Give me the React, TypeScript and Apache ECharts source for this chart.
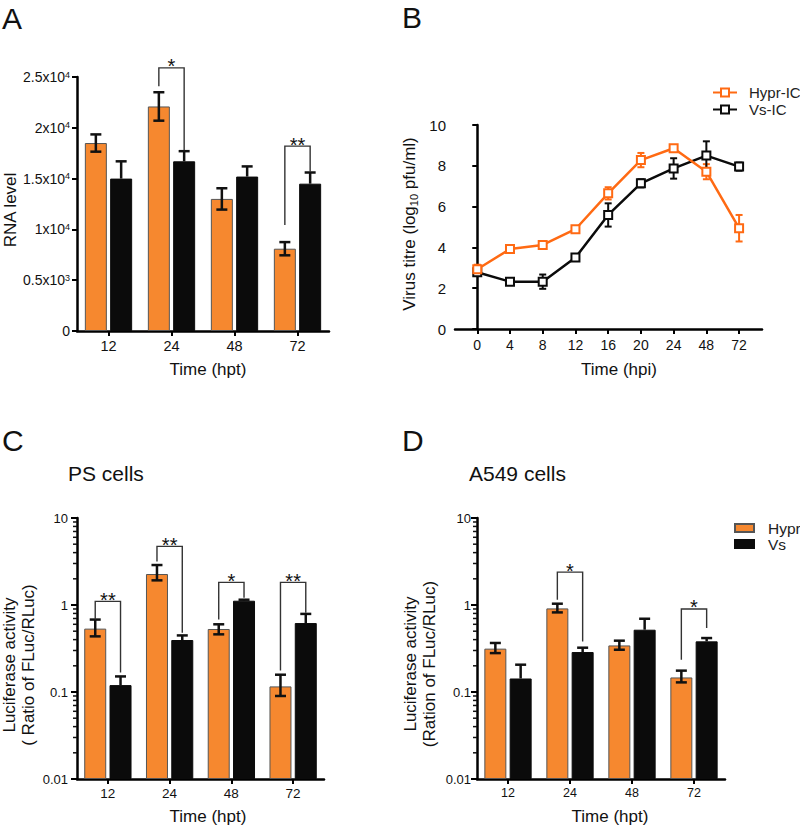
import React, { useEffect, useRef } from 'react';
import * as echarts from 'echarts';

const FONT = '"Liberation Sans", Arial, Helvetica, sans-serif';
const ORANGE = '#F6882F';
const LINE_ORANGE = '#FF6A13';
const BLACK = '#0B0B0B';

// ---------- Panel A: RNA level ----------
const barCats = ['12', '24', '48', '72'];
const rnaHypr = [18500, 22100, 13000, 8100];
const rnaHyprErr = [850, 1400, 1050, 650];
const rnaVs = [15000, 16700, 15200, 14500];
const rnaVsErr = [1700, 1000, 1000, 1100];
const rnaTickBase = ['0', '0.5x10', '1x10', '1.5x10', '2x10', '2.5x10'];
const rnaTickExp = ['', '3', '4', '4', '4', '4'];
const rnaBrCat = [1, 3];
const rnaBrLeft = [24100, 10430];
const rnaBrRight = [17800, 15650];
const rnaBrTop = [25900, 18200];
const rnaBrLabel = ['*', '**'];

// ---------- Panel B: virus titre ----------
const titreCats = ['0', '4', '8', '12', '16', '20', '24', '48', '72'];
const titreHypr = [2.93, 3.92, 4.12, 4.89, 6.65, 8.28, 8.86, 7.71, 4.94];
const titreHyprErr = [0.22, 0.08, 0.08, 0.08, 0.3, 0.35, 0.1, 0.37, 0.65];
const titreVs = [2.78, 2.32, 2.32, 3.5, 5.59, 7.14, 7.87, 8.5, 7.96];
const titreVsErr = [0.08, 0.08, 0.35, 0.08, 0.57, 0.2, 0.5, 0.7, 0.2];

// ---------- Panel C: PS cells ----------
const psHypr = [0.535, 2.27, 0.53, 0.116];
const psHyprLo = [0.436, 1.92, 0.46, 0.09];
const psHyprHi = [0.68, 2.88, 0.6, 0.158];
const psVs = [0.12, 0.396, 1.12, 0.62];
const psVsHi = [0.151, 0.447, 1.15, 0.79];
const psBrCat = [0, 1, 2, 3];
const psBrLeft = [0.68, 3.17, 0.68, 0.177];
const psBrRight = [0.167, 0.48, 1.21, 0.817];
const psBrTop = [1.1, 4.72, 1.82, 1.82];
const psBrLabel = ['**', '**', '*', '**'];

// ---------- Panel D: A549 cells ----------
const a549Hypr = [0.315, 0.914, 0.343, 0.147];
const a549HyprLo = [0.28, 0.822, 0.306, 0.129];
const a549HyprHi = [0.366, 1.035, 0.389, 0.176];
const a549Vs = [0.143, 0.288, 0.52, 0.382];
const a549VsHi = [0.206, 0.323, 0.695, 0.417];
const a549BrCat = [1, 3];
const a549BrLeft = [1.15, 0.235];
const a549BrRight = [0.38, 0.545];
const a549BrTop = [2.39, 0.9];
const a549BrLabel = ['*', '*'];

const logMinorTicks = [0.02, 0.03, 0.04, 0.05, 0.06, 0.07, 0.08, 0.09, 0.2, 0.3, 0.4, 0.5, 0.6, 0.7, 0.8, 0.9, 2, 3, 4, 5, 6, 7, 8, 9];

// ---------- style constants ----------
const BAR_W = 22;
const BAR_GAP = 0.15;
const BAR_OFF = (BAR_W * (1 + BAR_GAP)) / 2;
const CAP = 5.5;

function errRender(params: any, api: any) {
  const cat = api.value(0);
  const lo = api.value(1);
  const hi = api.value(2);
  const side = api.value(3);
  const pLo = api.coord([cat, lo]);
  const pHi = api.coord([cat, hi]);
  const x = pLo[0] + side * BAR_OFF;
  const style = { stroke: '#111', lineWidth: 2.5 };
  const children: any[] = [
    { type: 'line', shape: { x1: x, y1: pLo[1], x2: x, y2: pHi[1] }, style },
    { type: 'line', shape: { x1: x - CAP, y1: pHi[1], x2: x + CAP, y2: pHi[1] }, style },
  ];
  if (side < 0) children.push({ type: 'line', shape: { x1: x - CAP, y1: pLo[1], x2: x + CAP, y2: pLo[1] }, style });
  return { type: 'group', children };
}

function makeBracketRender(labels: string[]) {
  return (params: any, api: any) => {
    const cat = api.value(0);
    const pL = api.coord([cat, api.value(1)]);
    const pR = api.coord([cat, api.value(2)]);
    const pT = api.coord([cat, api.value(3)]);
    const xl = pT[0] - BAR_OFF;
    const xr = pT[0] + BAR_OFF;
    return {
      type: 'group',
      children: [
        {
          type: 'polyline',
          shape: { points: [[xl, pL[1]], [xl, pT[1]], [xr, pT[1]], [xr, pR[1]]] },
          style: { stroke: '#333', lineWidth: 1.4, fill: 'none' },
        },
        {
          type: 'text',
          x: (xl + xr) / 2,
          y: pT[1] - 1.5,
          style: {
            text: labels[params.dataIndex],
            font: `normal 20px ${FONT}`,
            fill: '#111',
            align: 'center',
            verticalAlign: 'middle',
            textAlign: 'center',
            textVerticalAlign: 'middle',
          },
        },
      ],
    };
  };
}

function minorTickRender(params: any, api: any) {
  const p = api.coord([0, api.value(1)]);
  const x0 = params.coordSys.x;
  return { type: 'line', shape: { x1: x0 - 4, y1: p[1], x2: x0, y2: p[1] }, style: { stroke: '#111', lineWidth: 1.5 } };
}

function titreErrRender(params: any, api: any) {
  const i = api.value(0);
  const lo = api.coord([i, api.value(1)]);
  const hi = api.coord([i, api.value(2)]);
  const color = api.value(3) === 0 ? LINE_ORANGE : BLACK;
  const style = { stroke: color, lineWidth: 2 };
  const c = 3.5;
  return {
    type: 'group',
    children: [
      { type: 'line', shape: { x1: lo[0], y1: lo[1], x2: hi[0], y2: hi[1] }, style },
      { type: 'line', shape: { x1: hi[0] - c, y1: hi[1], x2: hi[0] + c, y2: hi[1] }, style },
      { type: 'line', shape: { x1: lo[0] - c, y1: lo[1], x2: lo[0] + c, y2: lo[1] }, style },
    ],
  };
}

const axisLine = { show: true, lineStyle: { color: '#000', width: 2.5 } };
const axisTick = { show: true, length: 5, lineStyle: { color: '#000', width: 2 } };

function logLabel(v: number) {
  return String(parseFloat(v.toPrecision(3)));
}

function txt(text: string, x: number, y: number, size: number, opts: any = {}) {
  return {
    type: 'text',
    x,
    y,
    rotation: opts.rot || 0,
    style: {
      text,
      font: `normal ${size}px ${FONT}`,
      fill: '#111',
      align: opts.align || 'left',
      verticalAlign: 'middle',
      textAlign: opts.align || 'left',
      textVerticalAlign: 'middle',
      lineHeight: opts.lh,
    },
  };
}

export default function App() {
  const ref = useRef<HTMLDivElement>(null);
  useEffect(() => {
    const chart = echarts.init(ref.current!, null, { renderer: 'svg' });
    const catX = (gridIndex: number, fontSize: number) => ({
      type: 'category',
      gridIndex,
      data: barCats,
      axisLine,
      axisTick: { ...axisTick, alignWithLabel: true },
      axisLabel: { fontSize, fontFamily: FONT, color: '#111', margin: 7 },
      splitLine: { show: false },
    });
    const logY = (gridIndex: number, margin: number) => ({
      type: 'log',
      gridIndex,
      logBase: 10,
      min: 0.01,
      max: 10,
      startValue: 0.01,
      axisLine,
      axisTick: { ...axisTick, length: 6 },
      axisLabel: { fontSize: 13, fontFamily: FONT, color: '#111', margin, formatter: logLabel },
      splitLine: { show: false },
    });
    const barSeries = (name: string, data: number[], color: string, border: string, x: number, y: number) => ({
      type: 'bar',
      name,
      xAxisIndex: x,
      yAxisIndex: y,
      data,
      barWidth: BAR_W,
      barGap: `${BAR_GAP * 100}%`,
      itemStyle: { color, borderColor: border, borderWidth: 1 },
      z: 2,
    });
    const option: any = {
      animation: false,
      backgroundColor: '#fff',
      textStyle: { fontFamily: FONT },
      grid: [
        { left: 77, top: 77, width: 252, height: 254, containLabel: false, outerBoundsMode: 'none' },
        { left: 455, top: 125, width: 307, height: 204, containLabel: false, outerBoundsMode: 'none' },
        { left: 77, top: 518, width: 247, height: 261, containLabel: false, outerBoundsMode: 'none' },
        { left: 477, top: 518, width: 248, height: 261, containLabel: false, outerBoundsMode: 'none' },
      ],
      xAxis: [
        catX(0, 14.5),
        {
          type: 'value',
          gridIndex: 1,
          min: -0.68,
          max: 8.7,
          axisLine,
          axisTick: { ...axisTick, customValues: titreCats.map((_, i) => i) },
          axisLabel: {
            fontSize: 14,
            fontFamily: FONT,
            color: '#111',
            margin: 9,
            customValues: titreCats.map((_, i) => i),
            formatter: (v: number) => titreCats[Math.round(v)] ?? '',
          },
          splitLine: { show: false },
        },
        catX(2, 13.5),
        catX(3, 12.5),
      ],
      yAxis: [
        {
          type: 'value',
          gridIndex: 0,
          min: 0,
          max: 25000,
          interval: 5000,
          axisLine,
          axisTick,
          splitLine: { show: false },
          axisLabel: {
            margin: 7,
            formatter: (v: number) => {
              const k = Math.round(v / 5000);
              const e = rnaTickExp[k];
              return e ? `{b|${rnaTickBase[k]}}{s|${e}}` : `{b|${rnaTickBase[k]}}`;
            },
            rich: {
              b: { fontSize: 14, fontFamily: FONT, color: '#111', lineHeight: 14, verticalAlign: 'bottom' },
              s: { fontSize: 9, fontFamily: FONT, color: '#111', lineHeight: 9, padding: [0, 0, 7, 0], verticalAlign: 'top' },
            },
          },
        },
        {
          type: 'value',
          gridIndex: 1,
          min: 0,
          max: 10,
          interval: 2,
          axisLine,
          axisTick,
          splitLine: { show: false },
          axisLabel: { fontSize: 15, fontFamily: FONT, color: '#111', margin: 9 },
        },
        logY(2, 9),
        logY(3, 6),
      ],
      legend: [
        {
          data: ['Hypr-IC', 'Vs-IC'],
          orient: 'vertical',
          left: 707,
          top: 80,
          itemWidth: 24,
          itemHeight: 10,
          itemGap: 2,
          textStyle: { fontSize: 15, fontFamily: FONT, color: '#222', padding: [0, 0, 0, 7] },
        },
        {
          data: ['Hypr', 'Vs'],
          orient: 'vertical',
          left: 729,
          top: 515,
          icon: 'rect',
          itemWidth: 19,
          itemHeight: 8,
          itemGap: 0,
          textStyle: { fontSize: 15.5, fontFamily: FONT, color: '#222', padding: [0, 0, 0, 9] },
        },
      ],
      series: [
        // Panel A
        barSeries('Hypr', rnaHypr, ORANGE, '#555', 0, 0),
        barSeries('Vs', rnaVs, BLACK, BLACK, 0, 0),
        {
          type: 'custom',
          name: 'errA',
          xAxisIndex: 0,
          yAxisIndex: 0,
          clip: false,
          z: 5,
          renderItem: errRender,
          data: rnaHypr
            .map((v, i) => [i, v - rnaHyprErr[i], v + rnaHyprErr[i], -1])
            .concat(rnaVs.map((v, i) => [i, v, v + rnaVsErr[i], 1])),
        },
        {
          type: 'custom',
          name: 'brA',
          xAxisIndex: 0,
          yAxisIndex: 0,
          clip: false,
          z: 6,
          renderItem: makeBracketRender(rnaBrLabel),
          data: rnaBrCat.map((c, i) => [c, rnaBrLeft[i], rnaBrRight[i], rnaBrTop[i]]),
        },
        // Panel B
        {
          type: 'custom',
          name: 'errB',
          xAxisIndex: 1,
          yAxisIndex: 1,
          clip: false,
          z: 1,
          renderItem: titreErrRender,
          data: titreHypr
            .map((v, i) => [i, v - titreHyprErr[i], v + titreHyprErr[i], 0])
            .concat(titreVs.map((v, i) => [i, v - titreVsErr[i], v + titreVsErr[i], 1])),
        },
        {
          type: 'line',
          name: 'Vs-IC',
          xAxisIndex: 1,
          yAxisIndex: 1,
          data: titreVs.map((v, i) => [i, v]),
          symbol: 'emptyRect',
          symbolSize: 8,
          lineStyle: { color: BLACK, width: 2.5 },
          itemStyle: { color: BLACK, borderColor: BLACK, borderWidth: 2 },
          z: 3,
        },
        {
          type: 'line',
          name: 'Hypr-IC',
          xAxisIndex: 1,
          yAxisIndex: 1,
          data: titreHypr.map((v, i) => [i, v]),
          symbol: 'emptyRect',
          symbolSize: 8,
          lineStyle: { color: LINE_ORANGE, width: 2.5 },
          itemStyle: { color: LINE_ORANGE, borderColor: LINE_ORANGE, borderWidth: 2 },
          z: 4,
        },
        // Panel C
        barSeries('Hypr', psHypr, ORANGE, '#555', 2, 2),
        barSeries('Vs', psVs, BLACK, BLACK, 2, 2),
        {
          type: 'custom',
          name: 'errC',
          xAxisIndex: 2,
          yAxisIndex: 2,
          clip: false,
          z: 5,
          renderItem: errRender,
          data: psHypr
            .map((v, i) => [i, psHyprLo[i], psHyprHi[i], -1])
            .concat(psVs.map((v, i) => [i, v, psVsHi[i], 1])),
        },
        {
          type: 'custom',
          name: 'brC',
          xAxisIndex: 2,
          yAxisIndex: 2,
          clip: false,
          z: 6,
          renderItem: makeBracketRender(psBrLabel),
          data: psBrCat.map((c, i) => [c, psBrLeft[i], psBrRight[i], psBrTop[i]]),
        },
        {
          type: 'custom',
          name: 'minorC',
          xAxisIndex: 2,
          yAxisIndex: 2,
          clip: false,
          z: 6,
          renderItem: minorTickRender,
          data: logMinorTicks.map((v) => [0, v]),
        },
        // Panel D
        barSeries('Hypr', a549Hypr, ORANGE, '#555', 3, 3),
        barSeries('Vs', a549Vs, BLACK, BLACK, 3, 3),
        {
          type: 'custom',
          name: 'errD',
          xAxisIndex: 3,
          yAxisIndex: 3,
          clip: false,
          z: 5,
          renderItem: errRender,
          data: a549Hypr
            .map((v, i) => [i, a549HyprLo[i], a549HyprHi[i], -1])
            .concat(a549Vs.map((v, i) => [i, v, a549VsHi[i], 1])),
        },
        {
          type: 'custom',
          name: 'brD',
          xAxisIndex: 3,
          yAxisIndex: 3,
          clip: false,
          z: 6,
          renderItem: makeBracketRender(a549BrLabel),
          data: a549BrCat.map((c, i) => [c, a549BrLeft[i], a549BrRight[i], a549BrTop[i]]),
        },
        {
          type: 'custom',
          name: 'minorD',
          xAxisIndex: 3,
          yAxisIndex: 3,
          clip: false,
          z: 6,
          renderItem: minorTickRender,
          data: logMinorTicks.map((v) => [0, v]),
        },
      ],
      graphic: [
        txt('A', 2, 18, 30),
        txt('B', 402, 17, 30),
        txt('C', 2, 440, 30),
        txt('D', 402, 440, 30),
        txt('PS cells', 68, 473, 21),
        txt('A549 cells', 469, 473, 21),
        txt('RNA level', 10, 210, 17, { rot: Math.PI / 2, align: 'center' }),
        {
          type: 'text',
          x: 409,
          y: 224,
          rotation: Math.PI / 2,
          style: {
            text: '{a|Virus titre (log}{s|10}{a| pfu/ml)}',
            align: 'center',
            verticalAlign: 'middle',
            textAlign: 'center',
            textVerticalAlign: 'middle',
            rich: {
              a: { fontSize: 17, fontFamily: FONT, fill: '#111', color: '#111', lineHeight: 17, verticalAlign: 'top' },
              s: { fontSize: 11, fontFamily: FONT, fill: '#111', color: '#111', lineHeight: 11, padding: [8, 0, 0, 0], verticalAlign: 'top' },
            },
          },
        },
        txt('Luciferase activity\n( Ratio of FLuc/RLuc)', 19, 665, 17, { rot: Math.PI / 2, align: 'center', lh: 19 }),
        txt('Luciferase activity\n(Ration of FLuc/RLuc)', 419.5, 664, 17, { rot: Math.PI / 2, align: 'center', lh: 19 }),
        txt('Time (hpt)', 208, 369, 17, { align: 'center' }),
        txt('Time (hpi)', 619, 369, 17, { align: 'center' }),
        txt('Time (hpt)', 208, 816, 17, { align: 'center' }),
        txt('Time (hpt)', 610, 816, 17, { align: 'center' }),
      ],
    };
    chart.setOption(option);
    return () => chart.dispose();
  }, []);
  return <div ref={ref} style={{ position: 'absolute', left: 0, top: 0, width: 800, height: 827 }} />;
}
